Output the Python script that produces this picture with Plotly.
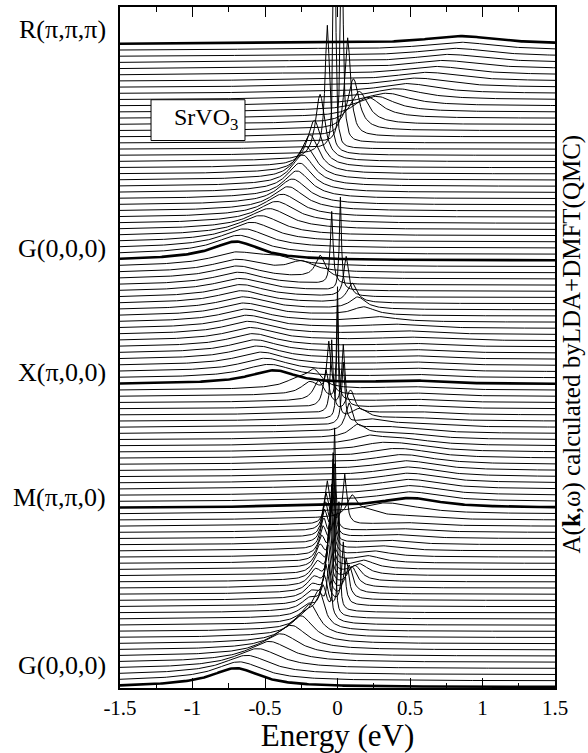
import numpy as np
import plotly.graph_objects as go

# ---- data: quasiparticle peak energies (eV) per k-point curve ----
# curves are numbered from the bottom G(0,0,0) (0) up to R(pi,pi,pi) (104)
# segment G -> M  (curves 0..29)
gm_band1 = [-0.70, -0.68, -0.63, -0.56, -0.48, -0.41, -0.35, -0.30, -0.26, -0.23,
            -0.21, -0.20, -0.19, -0.18, -0.17, -0.16, -0.15, -0.14, -0.13, -0.12,
            -0.11, -0.10, -0.095, -0.09, -0.085, -0.08, -0.07, 0.10, 0.30, 0.50]
gm_band2 = [-0.70, -0.67, -0.61, -0.53, -0.45, -0.37, -0.30, -0.24, -0.19, -0.15,
            -0.12, -0.10, -0.09, -0.08, -0.07, -0.065, -0.06, -0.055, -0.05, -0.045,
            -0.04, -0.035, -0.03, -0.03, -0.025, -0.02, 0.05, 0.20, 0.35, 0.50]
gm_band3 = [-0.70, -0.68, -0.63, -0.56, -0.48, -0.40, -0.32, -0.25, -0.18, -0.12,
            -0.06, -0.02, 0.01, 0.04, 0.06, 0.08, 0.10, 0.12, 0.15, 0.18,
            0.21, 0.25, 0.29, 0.33, 0.37, 0.41, 0.44, 0.47, 0.49, 0.50]
# segment M -> X  (curves 30..49)
mx_band1 = [0.50, 0.50, 0.49, 0.48, 0.46, 0.43, 0.39, 0.34, 0.28, 0.21,
            0.14, 0.08, 0.04, 0.00, -0.04, -0.08, -0.13, -0.19, -0.27, -0.40]
mx_band2 = [0.50, 0.50, 0.50, 0.50, 0.50, 0.50, 0.49, 0.47, 0.44, 0.40,
            0.35, 0.29, 0.22, 0.15, 0.09, 0.04, 0.00, -0.06, -0.16, -0.50]
mx_band3 = [0.50, 0.50, 0.50, 0.50, 0.50, 0.50, 0.50, 0.50, 0.50, 0.50,
            0.50, 0.50, 0.50, 0.50, 0.50, 0.50, 0.50, 0.50, 0.50, 0.50]
# segment X -> G  (curves 50..69)
xg_band1 = [-0.43, -0.46, -0.49, -0.52, -0.54, -0.56, -0.58, -0.60, -0.61, -0.62,
            -0.63, -0.64, -0.65, -0.66, -0.67, -0.68, -0.69, -0.69, -0.70, -0.70]
xg_band2 = [-0.53, -0.55, -0.57, -0.59, -0.60, -0.61, -0.62, -0.63, -0.64, -0.65,
            -0.66, -0.66, -0.67, -0.67, -0.68, -0.68, -0.69, -0.69, -0.70, -0.70]
xg_band3 = [0.50, 0.50, 0.50, 0.50, 0.50, 0.50, 0.49, 0.45, 0.38, 0.28,
            0.18, 0.14, 0.10, 0.06, 0.02, -0.04, -0.12, -0.25, -0.42, -0.70]
# segment G -> R  (curves 70..104), threefold degenerate
gr_band = [-0.68, -0.64, -0.59, -0.53, -0.47, -0.42, -0.38, -0.34, -0.31, -0.28,
           -0.26, -0.24, -0.22, -0.19, -0.16, -0.12, -0.07, -0.02, 0.03, 0.07,
           0.11, 0.15, 0.21, 0.27, 0.34, 0.41, 0.48, 0.55, 0.62, 0.68,
           0.73, 0.77, 0.81, 0.84, 0.85]

band1 = gm_band1 + mx_band1 + xg_band1 + gr_band
band2 = gm_band2 + mx_band2 + xg_band2 + gr_band
band3 = gm_band3 + mx_band3 + xg_band3 + gr_band

# high-symmetry points (curve index, label)
sym_index = [0, 29, 49, 69, 104]
sym_labels = ["G(0,0,0)", "M(π,π,0)", "X(π,0,0)", "G(0,0,0)", "R(π,π,π)"]
sym_label_pos = [3.5, 30.6, 50.8, 71.0, 106.3]

x_ticks = [-1.5, -1.0, -0.5, 0.0, 0.5, 1.0, 1.5]
x_tick_text = ["-1.5", "-1", "-0.5", "0", "0.5", "1", "1.5"]

# ---- spectral-function drawing ----
energy = np.linspace(-1.5, 1.5, 301)
Z0, Z_NEG = 0.40, 0.25
G0 = 0.007
GMAX_NEG, GMAX_POS, E_C = 0.23, 0.33, 0.30
W_INC, G_INC, SHIFT_INC = 0.10, 0.40, 0.30


def spectral(E):
    s = E * E / (E * E + E_C * E_C)
    gmax = GMAX_NEG if E < 0 else GMAX_POS
    zw = Z0 + (Z_NEG * s if E < 0 else 0.0)
    gam = G0 + gmax * s
    qp = zw / np.pi * gam / ((energy - E) ** 2 + gam ** 2)
    ec = min(E, 0.0) - SHIFT_INC
    inc = W_INC / np.pi * G_INC / ((energy - ec) ** 2 + G_INC ** 2)
    return qp + inc


fig = go.Figure()
n = len(band1)
for i in range(n):
    a = spectral(band1[i]) + spectral(band2[i]) + spectral(band3[i])
    thick = i in sym_index
    fig.add_trace(go.Scatter(
        x=energy, y=i + a, mode="lines",
        line=dict(color="black", width=2.6 if thick else 1.0),
        hoverinfo="skip", showlegend=False))

serif = "Liberation Serif"
ann = []
for lab, yp in zip(sym_labels, sym_label_pos):
    ann.append(dict(x=0, xref="paper", y=yp, yref="y", text=lab, showarrow=False,
                    xanchor="right", yanchor="middle", xshift=-12,
                    font=dict(family=serif, size=26, color="black")))
ann.append(dict(x=-0.91, y=91.9, xref="x", yref="y", text="SrVO<sub>3</sub>",
                showarrow=False, font=dict(family=serif, size=24, color="black")))
ann.append(dict(x=1.04, xref="paper", y=0.505, yref="paper",
                text="A(<b>k</b>,ω) calculated byLDA+DMFT(QMC)", textangle=-90,
                showarrow=False, xanchor="center", yanchor="middle",
                font=dict(family=serif, size=25, color="black")))

fig.update_layout(
    width=588, height=753,
    margin=dict(l=120, r=33, t=5, b=65),
    paper_bgcolor="white", plot_bgcolor="white",
    font=dict(family=serif, color="black"),
    annotations=ann,
    shapes=[dict(type="rect", xref="x", yref="y", x0=-1.286, x1=-0.638, y0=88.4, y1=95.0,
                 fillcolor="white", line=dict(color="black", width=1), layer="above")],
    xaxis=dict(range=[-1.5, 1.5], tickvals=x_ticks, ticktext=x_tick_text,
               ticks="inside", ticklen=10, tickwidth=1, tickcolor="black",
               minor=dict(dtick=0.25, ticks="inside", ticklen=5, tickcolor="black", tickwidth=1),
               showline=True, linecolor="black", linewidth=2, mirror="ticks",
               showgrid=False, zeroline=False,
               tickfont=dict(family=serif, size=21, color="black"),
               title=dict(text="Energy (eV)", font=dict(family=serif, size=31, color="black"),
                          standoff=0)),
    yaxis=dict(range=[-0.16, 110.0], showticklabels=False, ticks="",
               showline=True, linecolor="black", linewidth=2, mirror=True,
               showgrid=False, zeroline=False),
)

fig.write_html("out.html")
